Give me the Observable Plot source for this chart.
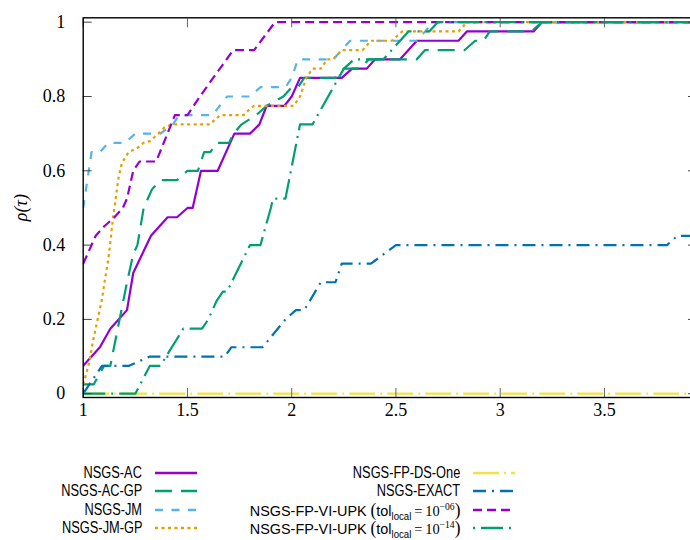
<!DOCTYPE html>
<html><head><meta charset="utf-8">
<script src="https://cdn.jsdelivr.net/npm/d3@7"></script>
<script src="https://cdn.jsdelivr.net/npm/@observablehq/plot@0.6"></script>
<style>
html,body{margin:0;padding:0;background:#fff;overflow:hidden;}
#wrap{width:690px;overflow:hidden;position:relative;}
#chart{width:690px;overflow:hidden;}
#chart svg{display:block;max-width:none !important;width:700px !important;height:430px !important;}
#chart svg [aria-label="y-axis label"] text{font-style:italic;}
#legend{position:relative;width:690px;height:110px;font-family:"Liberation Sans",Arial,sans-serif;font-size:15px;color:#000;}
.lab{position:absolute;text-align:right;white-space:nowrap;line-height:18px;height:18px;transform-origin:right center;}
.lab.sq{font-size:16px;transform:scaleX(0.8);}
.lab.vi{transform:scaleX(0.96);}
.sw{position:absolute;}
.m{font-family:"Liberation Serif",serif;}
.p{font-family:"Liberation Serif",serif;font-size:18px;}
sub,sup{font-size:10px;line-height:0;}
</style></head><body>
<div id="wrap"><div id="chart"></div><div id="legend"></div></div>
<script>
// ---- data ----
const xTicks = [1, 1.5, 2, 2.5, 3, 3.5];
const yTicks = [0, 0.2, 0.4, 0.6, 0.8, 1];

const acTau = [1, 1.08, 1.13, 1.21, 1.24, 1.325, 1.405, 1.45, 1.5, 1.525, 1.565, 1.645, 1.725, 1.80, 1.845, 1.88, 1.965, 2.0, 2.04, 2.24, 2.29, 2.36, 2.40, 2.52, 2.60, 2.80, 2.84, 3.16, 3.2, 3.95];
const acRho = [0.075, 0.125, 0.175, 0.225, 0.325, 0.425, 0.475, 0.475, 0.5, 0.5, 0.6, 0.6, 0.7, 0.7, 0.725, 0.775, 0.775, 0.8, 0.85, 0.85, 0.875, 0.875, 0.9, 0.9, 0.95, 0.95, 0.975, 0.975, 1.0, 1.0];

const acgpTau = [1, 1.05, 1.1, 1.13, 1.21, 1.24, 1.26, 1.29, 1.33, 1.37, 1.45, 1.5, 1.55, 1.58, 1.61, 1.64, 1.70, 1.72, 1.76, 1.83, 1.88, 1.96, 2.0, 2.03, 2.06, 2.21, 2.25, 2.33, 2.37, 2.6, 2.64, 2.83, 2.88, 2.92, 2.95, 3.15, 3.2, 3.95];
const acgpRho = [0.025, 0.025, 0.075, 0.075, 0.3, 0.375, 0.4, 0.5, 0.55, 0.575, 0.575, 0.6, 0.6, 0.65, 0.65, 0.675, 0.675, 0.7, 0.725, 0.75, 0.775, 0.8, 0.825, 0.825, 0.85, 0.85, 0.875, 0.875, 0.9, 0.9, 0.925, 0.925, 0.95, 0.95, 0.975, 0.975, 1.0, 1.0];

const jmTau = [1, 1.04, 1.08, 1.12, 1.2, 1.25, 1.37, 1.43, 1.46, 1.62, 1.69, 1.8, 1.85, 1.97, 2.0, 2.03, 2.2, 2.28, 2.6, 2.64, 2.68, 3.95];
const jmRho = [0.5, 0.65, 0.65, 0.675, 0.675, 0.7, 0.7, 0.725, 0.75, 0.75, 0.8, 0.8, 0.825, 0.825, 0.85, 0.9, 0.9, 0.95, 0.95, 0.975, 1.0, 1.0];

const jmgpTau = [1, 1.025, 1.05, 1.073, 1.09, 1.105, 1.12, 1.132, 1.142, 1.15, 1.161, 1.17, 1.185, 1.217, 1.257, 1.289, 1.32, 1.36, 1.39, 1.425, 1.61, 1.635, 1.66, 1.77, 1.8, 1.82, 2.01, 2.04, 2.07, 2.1, 2.14, 2.17, 2.2, 2.24, 2.34, 2.38, 2.48, 2.53, 2.8, 2.84, 3.95];
const jmgpRho = [0.025, 0.075, 0.15, 0.21, 0.255, 0.31, 0.36, 0.417, 0.47, 0.5, 0.547, 0.583, 0.62, 0.65, 0.66, 0.675, 0.68, 0.7, 0.717, 0.725, 0.725, 0.74, 0.75, 0.75, 0.767, 0.775, 0.775, 0.8, 0.85, 0.875, 0.875, 0.9, 0.9, 0.925, 0.925, 0.95, 0.95, 0.975, 0.975, 1.0, 1.0];

const dsTau = [1, 3.95];
const dsRho = [0, 0];

const exTau = [1, 1.09, 1.22, 1.32, 1.68, 1.71, 1.86, 1.97, 2.02, 2.06, 2.14, 2.21, 2.24, 2.38, 2.5, 3.8, 3.85, 3.95];
const exRho = [0, 0.075, 0.075, 0.1, 0.1, 0.125, 0.125, 0.2, 0.225, 0.225, 0.3, 0.3, 0.35, 0.35, 0.4, 0.4, 0.425, 0.425];

const vi6Tau = [1, 1.06, 1.1, 1.15, 1.19, 1.21, 1.24, 1.27, 1.35, 1.44, 1.5, 1.56, 1.64, 1.72, 1.82, 1.92, 3.95];
const vi6Rho = [0.35, 0.425, 0.45, 0.475, 0.5, 0.525, 0.6, 0.625, 0.625, 0.75, 0.75, 0.8, 0.863, 0.925, 0.925, 1.0, 1.0];

const vi14Tau = [1, 1.25, 1.32, 1.37, 1.48, 1.57, 1.6, 1.64, 1.67, 1.69, 1.8, 1.85, 1.9, 1.91, 1.97, 2.04, 2.1, 2.2, 2.25, 2.3, 2.44, 2.52, 2.56, 2.66, 2.7, 3.95];
const vi14Rho = [0, 0, 0.075, 0.075, 0.175, 0.175, 0.2, 0.25, 0.275, 0.275, 0.4, 0.4, 0.5, 0.525, 0.525, 0.725, 0.725, 0.825, 0.875, 0.9, 0.9, 0.95, 0.975, 0.975, 1.0, 1.0];

const names = ["NSGS-AC", "NSGS-AC-GP", "NSGS-JM", "NSGS-JM-GP", "NSGS-FP-DS-One", "NSGS-EXACT", "VI6", "VI14"];
const colors = ["#9400d3", "#009e73", "#56b4e9", "#e69f00", "#f0e442", "#0072b2", "#9400d3", "#009e73"];
const dashes = [null, "17,9", "8,8.5", "3,3.5", "26,5,2,5", "13,6,2,6", "9,5", "22,6,2,6"];
const taus = [acTau, acgpTau, jmTau, jmgpTau, dsTau, exTau, vi6Tau, vi14Tau];
const rhos = [acRho, acgpRho, jmRho, jmgpRho, dsRho, exRho, vi6Rho, vi14Rho];

const rows = names.flatMap((n, k) => taus[k].map((t, i) => ({series: n, tau: t, rho: rhos[k][i]})));

const lineMarks = names.map((n, k) => Plot.line(rows.filter(r => r.series === n), {
  x: "tau", y: "rho", stroke: colors[k], strokeWidth: 2.2,
  strokeDasharray: dashes[k] || undefined, strokeLinecap: "butt", strokeLinejoin: "round", clip: true
}));

const serif = "'Liberation Serif', 'DejaVu Serif', serif";
const chart = Plot.plot({
  width: 700, height: 430,
  marginLeft: 82.7, marginRight: 4, marginTop: 17.3, marginBottom: 33,
  style: {fontFamily: serif, fontSize: "18px", background: "#fff", color: "#000", maxWidth: "none"},
  x: {domain: [1, 3.9415], label: null},
  y: {domain: [-0.0102, 1.0118], label: null},
  marks: [
    ...lineMarks,
    Plot.axisX({ticks: xTicks, tickSize: 0, tickPadding: 6, tickFormat: d => String(d), label: null}),
    Plot.axisX({ticks: xTicks, tickSize: -9, tickFormat: () => "", label: null, stroke: "#666"}),
    Plot.axisX({anchor: "top", ticks: xTicks, tickSize: -9, tickFormat: () => "", label: null, stroke: "#666"}),
    Plot.axisY({ticks: yTicks, tickSize: 0, tickPadding: 18, tickFormat: d => String(d), label: "ρ(τ)", labelAnchor: "center", labelOffset: 69, labelArrow: "none"}),
    Plot.axisY({ticks: yTicks, tickSize: -9, tickFormat: () => "", label: null, stroke: "#444"}),
    Plot.axisY({anchor: "right", ticks: yTicks, tickSize: -9, tickFormat: () => "", label: null, stroke: "#444"}),
    Plot.frame({stroke: "#000", strokeWidth: 1.4})
  ]
});
document.getElementById("chart").appendChild(chart);

// ---- legend ----
const legendLabels = [
  "NSGS-AC", "NSGS-AC-GP", "NSGS-JM", "NSGS-JM-GP",
  "NSGS-FP-DS-One", "NSGS-EXACT",
  "NSGS-FP-VI-UPK <span class='p'>(</span>tol<sub>local</sub><span class='m'>&#8201;=&#8201;10<sup>−06</sup></span><span class='p'>)</span>",
  "NSGS-FP-VI-UPK <span class='p'>(</span>tol<sub>local</sub><span class='m'>&#8201;=&#8201;10<sup>−14</sup></span><span class='p'>)</span>"
];
const offsets = [0, 0, 0, 0, 0, 0, 0, 28];
const leg = document.getElementById("legend");
legendLabels.forEach((lab, k) => {
  const col = k < 4 ? 0 : 1;
  const row = k % 4;
  const cy = 43 + row * 18.3;
  const labRight = col === 0 ? 142 : 460;
  const swLeft = col === 0 ? 155 : 473;
  const d = document.createElement("div");
  d.className = k < 6 ? "lab sq" : "lab vi";
  d.style.right = (690 - labRight) + "px";
  d.style.top = (cy - 9) + "px";
  d.innerHTML = lab;
  leg.appendChild(d);
  const s = document.createElementNS("http://www.w3.org/2000/svg", "svg");
  s.setAttribute("class", "sw");
  s.setAttribute("width", 42); s.setAttribute("height", 8);
  s.style.left = swLeft + "px"; s.style.top = (cy - 4) + "px";
  const l = document.createElementNS("http://www.w3.org/2000/svg", "line");
  l.setAttribute("x1", 0); l.setAttribute("x2", 42); l.setAttribute("y1", 4); l.setAttribute("y2", 4);
  l.setAttribute("stroke", colors[k]); l.setAttribute("stroke-width", 2.4);
  if (dashes[k]) { l.setAttribute("stroke-dasharray", dashes[k]); l.setAttribute("stroke-dashoffset", offsets[k]); }
  s.appendChild(l);
  leg.appendChild(s);
});
</script>
</body></html>
